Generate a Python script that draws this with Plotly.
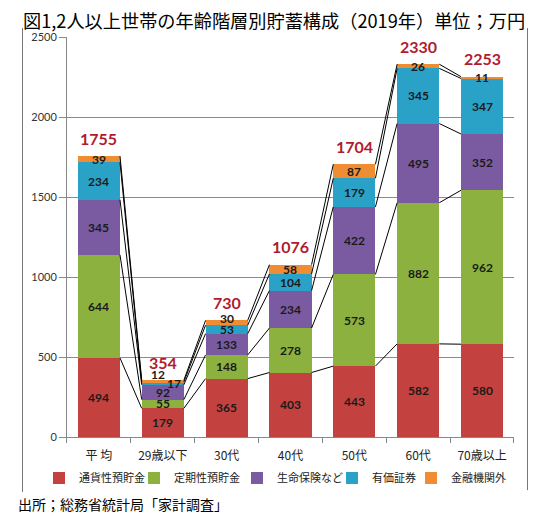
import numpy as np
import plotly.graph_objects as go

# ---------------- data ----------------
categories = ["平 均", "29歳以下", "30代", "40代", "50代", "60代", "70歳以上"]
series_names = ["通貨性預貯金", "定期性預貯金", "生命保険など", "有価証券", "金融機関外"]
currency_deposits = [494, 179, 365, 403, 443, 582, 580]
time_deposits = [644, 55, 148, 278, 573, 882, 962]
life_insurance = [345, 92, 133, 234, 422, 495, 352]
securities = [234, 17, 53, 104, 179, 345, 347]
non_financial = [39, 12, 30, 58, 87, 26, 11]
totals = [1755, 354, 730, 1076, 1704, 2330, 2253]
y_ticks = [0, 500, 1000, 1500, 2000, 2500]

series_values = [currency_deposits, time_deposits, life_insurance, securities, non_financial]

# ---------------- style ----------------
colors = ["#C3423F", "#8CB13E", "#7A5AA0", "#2AA2C8", "#F08C32"]
legend_widths = [50, 58, 50, 34, 60]
BAR_W = 0.66
CJK = "Noto Sans CJK JP"
NUM = "Lato"
# label nudges in pixels (series index, category index) -> (xshift, yshift)
nudges = {(3, 1): (11, 0), (4, 1): (-5, 7), (4, 2): (0, 4)}

x = np.arange(len(categories))

fig = go.Figure()
for name, vals, col, lw in zip(series_names, series_values, colors, legend_widths):
    fig.add_trace(go.Bar(
        x=x, y=vals, name=name, width=BAR_W,
        marker=dict(color=col, line=dict(width=0)),
        legendwidth=lw, hoverinfo="y+name",
    ))

# series connector lines between neighbouring bars
cum = np.cumsum(np.array(series_values, dtype=float), axis=0)
lx, ly = [], []
for level in cum:
    for i in range(len(categories) - 1):
        lx += [x[i] + BAR_W / 2, x[i + 1] - BAR_W / 2, None]
        ly += [level[i], level[i + 1], None]
fig.add_trace(go.Scatter(x=lx, y=ly, mode="lines", line=dict(color="black", width=1),
                         showlegend=False, hoverinfo="skip"))

# outer frame: left and right edges of the chart box, on a full-paper helper subplot
fig.add_trace(go.Scatter(x=[0.001, 0.001, None, 0.999, 0.999], y=[0, 1, None, 0.004, 1],
                         mode="lines", xaxis="x2", yaxis="y2", cliponaxis=False,
                         line=dict(color="#777777", width=1),
                         showlegend=False, hoverinfo="skip"))

annotations = []
bottoms = np.vstack([np.zeros(len(categories)), cum[:-1]])
for s, vals in enumerate(series_values):
    for i, v in enumerate(vals):
        xs, ys = nudges.get((s, i), (0, 0))
        annotations.append(dict(
            x=x[i], y=bottoms[s][i] + v / 2, xref="x", yref="y",
            text=f"<b>{v}</b>", showarrow=False, xshift=xs, yshift=ys,
            font=dict(family=NUM, size=12, color="#1a1a1a"),
        ))
for i, t in enumerate(totals):
    annotations.append(dict(
        x=x[i], y=t, xref="x", yref="y", text=f"<b>{t}</b>", showarrow=False,
        yshift=18, font=dict(family=NUM, size=16, color="#B01C2E"),
    ))

annotations.append(dict(
    x=-0.002, y=1.0172, xref="paper", yref="paper", xanchor="left", yanchor="middle",
    text="図1,2人以上世帯の年齢階層別貯蓄構成（2019年）単位；万円", showarrow=False,
    font=dict(family=CJK, size=18.2, color="black"),
))
annotations.append(dict(
    x=-0.0119, y=-0.0259, xref="paper", yref="paper", xanchor="left", yanchor="middle",
    text="出所；総務省統計局「家計調査」", showarrow=False,
    font=dict(family=CJK, size=14, color="black"),
))

fig.update_layout(
    width=529, height=508,
    margin=dict(l=14, r=9, t=20, b=24, autoexpand=False),
    barmode="stack",
    plot_bgcolor="rgba(0,0,0,0)", paper_bgcolor="white",
    showlegend=True,
    legend=dict(orientation="h", x=0.0336, xanchor="left", y=0.0302, yanchor="middle",
                traceorder="normal", font=dict(family=CJK, size=11, color="#222222"),
                bgcolor="rgba(0,0,0,0)", itemwidth=30),
    annotations=annotations,
    xaxis=dict(
        domain=[0.08893, 0.97233],
        range=[-0.5, len(categories) - 0.5], tickmode="array", tickvals=x, ticktext=categories,
        ticks="", showgrid=False, showline=True, linecolor="#888888", linewidth=1,
        tickfont=dict(family=CJK, size=12, color="#222222"), ticklabelstandoff=8,
        minor=dict(tickmode="linear", tick0=-0.5, dtick=1, ticks="outside", ticklen=5,
                   tickcolor="#888888", showgrid=False),
        zeroline=False, anchor="y",
    ),
    yaxis=dict(
        domain=[0.11853, 0.98060],
        range=[0, 2500], tickmode="array", tickvals=y_ticks, showgrid=True,
        gridcolor="#8a8a8a", gridwidth=1, showline=True, linecolor="#888888", linewidth=1,
        ticks="outside", ticklen=7, tickcolor="#888888",
        tickfont=dict(family=NUM, size=11, color="#333333"), zeroline=False, anchor="x",
    ),
    xaxis2=dict(domain=[0, 1], range=[0, 1], anchor="y2", visible=False, fixedrange=True),
    yaxis2=dict(domain=[0, 1], range=[0, 1], anchor="x2", visible=False, fixedrange=True),
)

fig.write_html("out.html")
